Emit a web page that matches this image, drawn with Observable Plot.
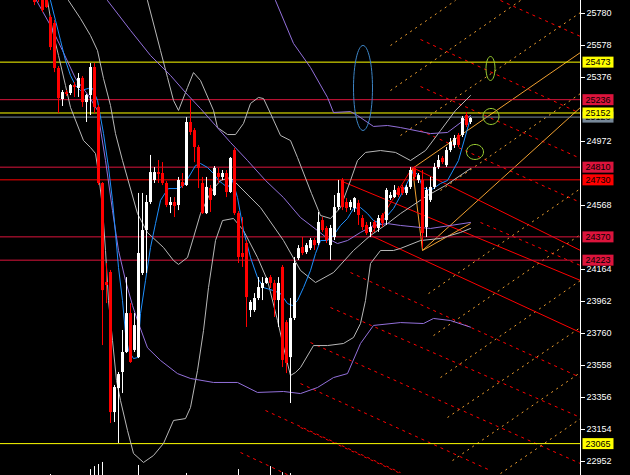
<!DOCTYPE html>
<html><head><meta charset="utf-8">
<script src="https://cdn.jsdelivr.net/npm/d3@7"></script>
<script src="https://cdn.jsdelivr.net/npm/@observablehq/plot@0.6"></script>
<style>html,body{margin:0;padding:0;background:#000;}</style>
</head><body><div id="chart"></div>
<script>
// ---- candle data (bar index = position in arrays) ----
const opens  = [25957,25925,25862,25881,25755,25717,25433,25237,25281,25275,25325,25307,25370,25218,25262,25439,25187,24707,24082,24145,23261,23413,23514,23640,23886,23653,23608,24139,24410,24587,24726,24776,24770,24707,24568,24587,24568,24713,24694,25092,25041,24934,24707,24517,24675,24631,24770,24745,24770,24650,24915,24517,24265,24328,23905,23905,23981,24044,24076,24113,24076,23968,24177,23829,23608,23855,24233,24303,24271,24296,24347,24328,24473,24423,24315,24366,24555,24726,24587,24555,24549,24581,24486,24442,24398,24461,24423,24505,24473,24612,24618,24675,24682,24644,24682,24802,24726,24726,24429,24600,24682,24808,24865,24820,24915,24947,25010,25010,25136,25092];
const highs  = [25988,25938,25894,25894,25767,25736,25445,25294,25294,25332,25344,25401,25382,25269,25464,25464,25199,24713,24202,24158,23432,23514,23779,24113,23949,23886,24644,24644,24631,24884,24808,24852,24839,24719,24618,24618,24745,24770,25123,25231,25054,24947,24745,24745,24694,24814,24802,24789,24789,24871,24928,24530,24492,24347,23968,24012,24113,24113,24113,24126,24095,24113,24189,23842,23981,24240,24315,24366,24328,24360,24360,24524,24492,24435,24442,24631,24726,24738,24612,24600,24618,24600,24505,24461,24461,24473,24505,24517,24675,24650,24694,24688,24694,24694,24808,24814,24770,24789,24682,24745,24833,24884,24877,24934,24991,25010,25022,25130,25155,25123];
const lows   = [25830,25849,25786,25812,25546,25407,25149,25193,25256,25262,25250,25250,25187,25092,25136,25149,24694,23684,23949,23192,23198,23066,23381,23634,23571,23640,23602,24126,24139,24574,24707,24707,24694,24555,24517,24492,24536,24675,24688,25010,24839,24675,24511,24511,24524,24625,24707,24726,24618,24644,24505,24202,24177,23798,23861,23893,23968,23968,24070,24044,23861,23798,23545,23507,23318,23842,24221,24252,24259,24284,24284,24315,24398,24328,24221,24347,24536,24536,24524,24536,24524,24442,24410,24379,24366,24398,24398,24429,24442,24600,24612,24618,24631,24631,24669,24726,24707,24297,24366,24587,24669,24795,24827,24808,24902,24928,24934,24997,25060,25079];
const closes = [25849,25875,25799,25818,25565,25433,25243,25281,25269,25325,25313,25370,25218,25262,25439,25187,24707,24031,24063,23261,23419,23501,23640,23886,23577,23810,24265,24410,24587,24776,24776,24764,24707,24568,24587,24562,24726,24688,25092,25029,24934,24802,24517,24682,24600,24802,24745,24770,24650,24865,24517,24240,24240,23987,23956,23981,24050,24076,24107,24076,23968,24076,23590,23571,23855,24202,24296,24265,24315,24347,24315,24461,24410,24347,24423,24555,24644,24555,24549,24587,24612,24505,24429,24391,24429,24423,24486,24454,24663,24631,24663,24631,24644,24682,24789,24745,24757,24391,24663,24682,24808,24852,24839,24915,24966,24991,24947,25117,25073,25117];

// ---- volume stubs at the bottom (bar index, top value) ----
const volIndex = [4,14,15,16,17,26,38,51,59,62,64];
const volTop   = [22870,22901,22920,22933,22946,22927,22876,22901,22920,22882,22876];

// ---- indicator lines: [bar index, price] ----
const blueMA = [[4,25862],[5.25,25736],[6.5,25610],[7.75,25483],[9,25389],[10.25,25325],[11.5,25294],[13.5,25307],[14.5,25307],[15.75,25231],[17.25,25022],[18.5,24808],[19.5,24600],[20.25,24393],[21,24177],[22,23968],[22.75,23760],[23.5,23653],[24.75,23602],[25.75,23608],[26.5,23886],[27.75,24095],[29,24303],[30.25,24454],[31.5,24600],[32.75,24650],[33.5,24675],[36,24675],[37.25,24694],[38.5,24745],[40.25,24820],[41.5,24833],[43.25,24808],[44.75,24770],[46,24726],[47,24707],[48.25,24682],[49.5,24726],[50.75,24618],[52.25,24410],[54,24240],[55.75,24113],[57.25,24050],[59.75,24031],[61.5,24012],[63.25,23949],[64.5,23937],[65.75,23968],[67.25,24050],[69,24158],[70.25,24265],[71.5,24347],[73.25,24347],[74.75,24379],[76.5,24442],[78.25,24486],[79.75,24549],[81.5,24555],[83.25,24517],[84.75,24473],[86.5,24454],[89.75,24549],[92.25,24663],[94.75,24789],[96,24757],[97,24682],[99,24663],[101.5,24707],[103.25,24726],[106,24852],[108.75,25098]];
const purpleA = [[0.5,25862],[4,25704],[7,25546],[10.25,25370],[13.5,25262],[15.75,25168],[17.75,24852],[19.5,24536],[21,24284],[22.75,24095],[24.5,23937],[25.75,23842],[28.25,23670],[31.5,23590],[35.75,23507],[39,23476],[44.75,23451],[50.75,23451],[55.75,23388],[62.25,23394],[66.5,23381],[70.75,23419],[74.75,23482],[78.25,23507],[81.5,23697],[84.75,23811],[91.5,23829],[97.25,23823],[99.75,23855],[104,23842],[109,23800]];
const purpleB = [[18.25,25862],[24,25673],[29,25515],[34,25389],[37.75,25281],[41.5,25180],[45.25,25073],[49,24966],[53.25,24852],[57.75,24726],[62.25,24618],[66.5,24492],[70.75,24410],[73.25,24360],[75.75,24328],[78.25,24347],[81.5,24398],[84.75,24442],[88.25,24454],[91.5,24442],[99,24423],[109,24461]];
const purpleC = [[60.25,25862],[64.75,25591],[69,25439],[73.25,25250],[74.75,25155],[79,25161],[80.75,25136],[84.75,25067],[88.25,25073],[91.5,25060],[99,25022],[103.25,25029],[107.25,25105],[109,25136]];
const grayMid = [[8.5,25862],[11.5,25748],[14,25641],[15.75,25546],[17.25,25370],[19,25199],[20.25,25022],[22,24852],[25.75,24517],[28.25,24397],[32.25,24303],[34.75,24221],[36,24196],[38.25,24240],[39.75,24366],[41.5,24517],[44,24650],[46.5,24726],[49,24745],[56.5,24555],[62.25,24347],[66.5,24158],[70.25,24082],[74.75,24145],[79.75,24284],[84,24379],[88.25,24454],[91.5,24517],[98.25,24631],[102.75,24694],[109,24801]];
const grayUp = [[28.25,25862],[31.5,25546],[33.25,25376],[34.75,25231],[36,25168],[38.25,25313],[39.75,25407],[41.5,25357],[44.75,25168],[45.75,25060],[48.25,25016],[50.25,25016],[52.25,25086],[54,25212],[56,25250],[57.25,25243],[59,25149],[61.5,25010],[64,24978],[65.75,24871],[69.25,24644],[71.5,24505],[74,24486],[76.5,24555],[79,24726],[80.75,24852],[82.75,24903],[86.5,24915],[90.25,24903],[94,24852],[97.75,24915],[101.5,25041],[105.25,25168],[109,25262]];
const grayLow = [[3.25,25862],[4.5,25673],[6,25515],[7.75,25325],[9,25187],[12.25,24978],[14,24934],[15.25,24896],[16,24770],[17,24555],[17.75,24284],[18.5,23968],[19.5,23716],[20.5,23463],[21.5,23337],[23.25,23148],[24.75,23003],[27.25,22946],[29.75,22990],[32.25,23066],[34.75,23211],[37.75,23223],[39,23293],[40.75,23526],[42.25,23779],[43.5,24050],[45.25,24347],[47,24473],[49.75,24486],[52.25,24410],[55.75,24240],[58.25,24095],[60.75,23842],[62.75,23621],[64,23495],[65.25,23514],[66.5,23545],[69.75,23684],[73.25,23684],[77.25,23697],[79.75,23735],[81.5,23823],[82.75,23968],[84,24202],[86.5,24284],[89.75,24284],[91.5,24297],[96.5,24347],[101.5,24360],[106.5,24398],[109,24423]];

// ---- drawn objects: segments [x1, p1, x2, p2] ----
const redDashed = [[116.5,25862,136.5,25635],[96.5,25616,136.5,25149],[96.5,25319,136.5,24865],[96.5,25041,136.5,24587],[111.5,24461,136.5,24189],[79,24145,136.5,23482],[74,23924,136.5,23230],[69,23703,136.5,22939],[66.5,23444,114,22895],[66.5,23167,91.5,22876],[57.75,23274,91.5,22882],[51.5,23009,64,22860]];
const orangeDashed = [[98.5,24012,136.5,24675],[99.75,23747,136.5,24385],[101.5,23482,136.5,24095],[103.25,23230,136.5,23798],[104.5,22958,136.5,23514],[116.5,22876,136.5,23223],[91.5,25010,136.5,25786],[89,25294,121.5,25862],[89,25578,105.25,25862],[101.5,24663,136.5,25275]];
const orangeSolid = [[97,24284,136.5,25187],[94.5,24802,136.5,25534],[94.5,24802,97,24284],[97,24284,109,24454]];
const redSolid = [[77,24719,136.5,24095],[84,24379,136.5,23766],[84,24379,94.5,24808],[94.5,24808,136.5,24284]];

// ---- horizontal levels ----
const levelPrices = [25473,25236,25152,25126,24810,24730,24370,24223,23065];
const levelColors = ["#ffff00","#dc143c","#ffff00","#778899","#dc143c","#ff0000","#dc143c","#dc143c","#ffff00"];
const labelOrder = [0,1,3,2,4,5,6,7,8];

// ---- right axis ticks ----
const tickValues = [25780,25578,25376,24972,24568,24164,23962,23760,23558,23356,23154,22952];

// ---- marked areas: [bar index, price, radiusX(px), radiusY(px), colour] ----
const ovals = [[82.125,25310,9.5,42.5,"#3d85c6"],[114,25433,4.5,12,"#9acd32"],[114.125,25130,8,8,"#9acd32"],[110.125,24906,8.5,7.5,"#9acd32"]];

const xDomain = [-8.5, 136.5];
const yDomain = [22863.7, 25862.06];

const candles = opens.map((o, i) => ({i, o, h: highs[i], l: lows[i], c: closes[i]}));
const candleColor = d => d.c >= d.o ? "#ffffff" : "#ff0000";
const vols = volIndex.map((i, k) => ({i, v: volTop[k]}));
const seg = a => a.map(s => ({x1: s[0], y1: s[1], x2: s[2], y2: s[3]}));
const levels = levelPrices.map((p, k) => ({p, color: levelColors[k], label: String(p)}));

const boxSymbol = {draw(ctx) { ctx.rect(-15.5, -5.5, 31, 11); }};
function ellipseSymbol(rx, ry) {
  const k = 0.5523;
  return {draw(ctx) {
    ctx.moveTo(rx, 0);
    ctx.bezierCurveTo(rx, ry * k, rx * k, ry, 0, ry);
    ctx.bezierCurveTo(-rx * k, ry, -rx, ry * k, -rx, 0);
    ctx.bezierCurveTo(-rx, -ry * k, -rx * k, -ry, 0, -ry);
    ctx.bezierCurveTo(rx * k, -ry, rx, -ry * k, rx, 0);
    ctx.closePath();
  }};
}
const lineMark = (data, color) => Plot.line(data, {x: d => d[0], y: d => d[1], stroke: color, strokeWidth: 1, clip: true});

// each label: box then its text, stacked in order so later boxes cover earlier texts
const labelMarks = labelOrder.flatMap(k => [
  Plot.dot([levels[k]], {y: "p", frameAnchor: "right", dx: 17.5, symbol: boxSymbol, r: 5, fill: levels[k].color, stroke: "none"}),
  Plot.text([levels[k]], {y: "p", frameAnchor: "right", dx: 17.5, text: "label", fill: "#000000", textAnchor: "middle", fontSize: 9})
]);

const chart = Plot.plot({
  width: 630, height: 475,
  marginLeft: 0, marginRight: 50, marginTop: 0, marginBottom: 0,
  style: {background: "#000", color: "#fff", fontFamily: "'Liberation Sans', Arial, sans-serif", fontSize: "9px"},
  x: {domain: xDomain, axis: null},
  y: {domain: yDomain, axis: null},
  marks: [
    Plot.link(seg(redDashed), {x1: "x1", y1: "y1", x2: "x2", y2: "y2", stroke: "#ff0000", strokeDasharray: "3,4", clip: true}),
    Plot.link(seg(orangeDashed), {x1: "x1", y1: "y1", x2: "x2", y2: "y2", stroke: "#f0a030", strokeDasharray: "2,4", clip: true}),
    Plot.link(seg(orangeSolid), {x1: "x1", y1: "y1", x2: "x2", y2: "y2", stroke: "#f0a030", clip: true}),
    Plot.link(seg(redSolid), {x1: "x1", y1: "y1", x2: "x2", y2: "y2", stroke: "#ff0000", clip: true}),
    Plot.ruleY(levels, {y: "p", stroke: "color", strokeWidth: 1}),
    lineMark(grayUp, "#b8b8b8"),
    lineMark(grayMid, "#b8b8b8"),
    lineMark(grayLow, "#b8b8b8"),
    lineMark(purpleA, "#9370db"),
    lineMark(purpleB, "#9370db"),
    lineMark(purpleC, "#9370db"),
    lineMark(blueMA, "#1e90ff"),
    Plot.ruleX(vols, {x: "i", y1: yDomain[0], y2: "v", stroke: "#ffffff"}),
    Plot.ruleX(candles, {x: "i", y1: "l", y2: "h", stroke: candleColor, strokeWidth: 1, clip: true}),
    Plot.ruleX(candles, {x: "i", y1: "o", y2: "c", stroke: candleColor, strokeWidth: 3, strokeLinecap: "butt", clip: true}),
    ...ovals.map(o => Plot.dot([o], {x: d => d[0], y: d => d[1], r: 5, symbol: ellipseSymbol(o[2], o[3]), stroke: o[4], strokeWidth: 1, fill: "none"})),
    Plot.ruleX([xDomain[1]], {stroke: "#ffffff"}),
    Plot.axisY(tickValues, {anchor: "right", tickSize: 4, tickPadding: 2, stroke: "#ffffff", fill: "#ffffff", fontSize: 9, tickFormat: d => String(d)}),
    ...labelMarks
  ]
});
document.getElementById("chart").appendChild(chart);
</script>
</body></html>
